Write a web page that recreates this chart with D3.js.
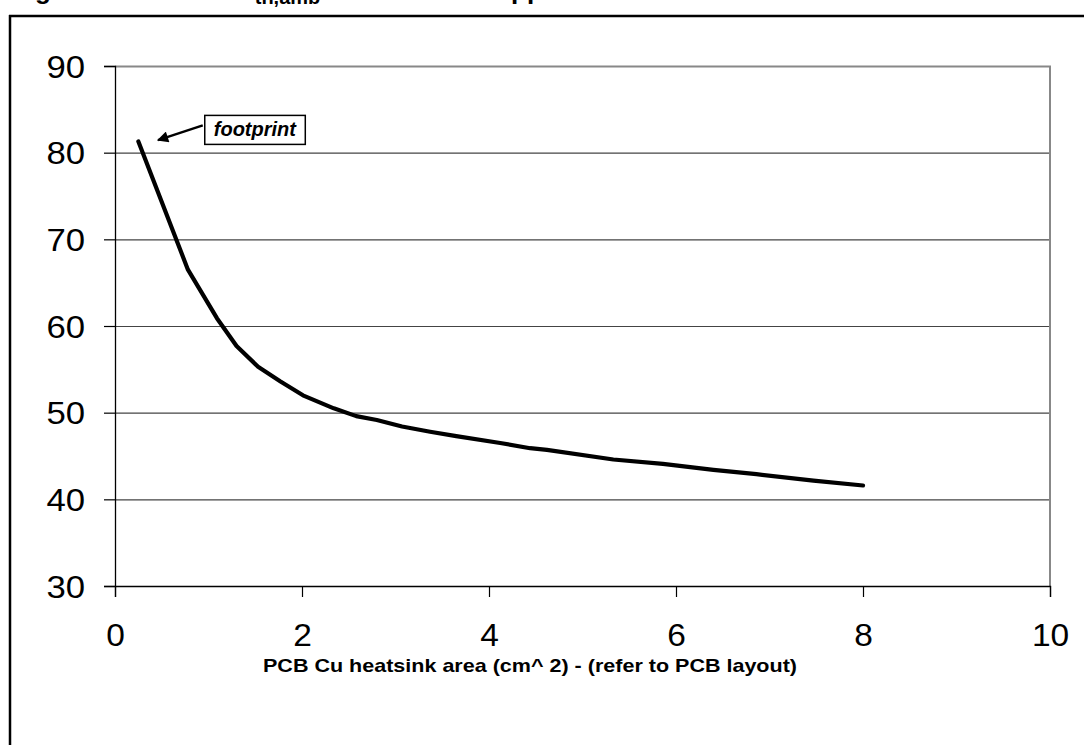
<!DOCTYPE html>
<html><head><meta charset="utf-8">
<script src="https://cdn.jsdelivr.net/npm/d3@7"></script>
<style>
html,body{margin:0;padding:0;background:#fff;}
svg{display:block;font-family:"Liberation Sans",Arial,sans-serif;}
</style></head>
<body>
<svg id="c" width="1084" height="745"></svg>
<script>
// ---- data ----
const areaCm2 = [0.25, 0.78, 1.09, 1.30, 1.53, 1.77, 2.01, 2.34, 2.58, 2.80, 3.07, 3.37, 3.65, 4.12, 4.44, 4.62, 5.33, 5.86, 6.40, 6.86, 7.47, 8.0];
const rthAmb  = [81.3, 66.5, 60.9, 57.7, 55.3, 53.6, 52.0, 50.5, 49.6, 49.15, 48.4, 47.8, 47.3, 46.5, 45.9, 45.7, 44.6, 44.1, 43.4, 42.9, 42.15, 41.6];
const xTicks = [0, 2, 4, 6, 8, 10];
const yTicks = [30, 40, 50, 60, 70, 80, 90];
const xTitle = "PCB Cu heatsink area (cm^ 2) -  (refer to PCB layout)";
const annotText = "footprint";
const annotPoint = [0.46, 81.45];
const annotBox = [0.96, 84.3];

const svg = d3.select("#c");
const x = d3.scaleLinear().domain([0, 10]).range([115, 1050]);
const y = d3.scaleLinear().domain([30, 90]).range([586, 66]);

// cut-off figure title
const t = svg.append("text").attr("x", 12).attr("y", -1)
  .attr("font-size", 26).attr("font-weight", "bold").attr("fill", "#000");
t.append("tspan").text("Figure 4. Thermal R");
t.append("tspan").attr("font-size", 20).attr("dy", 5).text("th,amb");
t.append("tspan").attr("dy", -5).text(" versus PCB copper area");

// outer frame
svg.append("line").attr("x1", 10).attr("x2", 10).attr("y1", 15).attr("y2", 745)
  .attr("stroke", "#000").attr("stroke-width", 2.5);
svg.append("line").attr("x1", 9).attr("x2", 1084).attr("y1", 16).attr("y2", 16)
  .attr("stroke", "#000").attr("stroke-width", 2.5);

// gridlines
svg.append("g").selectAll("line").data(yTicks.filter(v => v > 30 && v < 90)).join("line")
  .attr("x1", x(0)).attr("x2", x(10))
  .attr("y1", d => y(d) + 0.5).attr("y2", d => y(d) + 0.5)
  .attr("stroke", "#444").attr("stroke-width", 1.2);

// plot border top/right (gray)
svg.append("path")
  .attr("d", `M${x(0)},${y(90)+0.5}H${x(10)}V${y(30)}`)
  .attr("fill", "none").attr("stroke", "#888").attr("stroke-width", 2);

function stretch(sel, k) {
  sel.each(function () {
    const len = this.getComputedTextLength();
    d3.select(this).attr("textLength", len * k).attr("lengthAdjust", "spacingAndGlyphs");
  });
}

// y axis
const ya = svg.append("g").attr("transform", `translate(${x(0)},0)`)
  .call(d3.axisLeft(y).tickValues(yTicks).tickSize(11).tickPadding(19).tickFormat(d3.format("d")));
ya.select(".domain").attr("stroke", "#000").attr("stroke-width", 1.3);
ya.selectAll(".tick line").attr("stroke", "#000").attr("stroke-width", 1.2);
ya.selectAll(".tick text").attr("font-size", 31).attr("font-family", "Liberation Sans, Arial, sans-serif")
  .attr("fill", "#000").attr("dy", "0.36em").call(stretch, 1.12);

// x axis
const xa = svg.append("g").attr("transform", `translate(0,${y(30)})`)
  .call(d3.axisBottom(x).tickValues(xTicks).tickSize(11).tickPadding(27).tickFormat(d3.format("d")));
xa.select(".domain").attr("stroke", "#000").attr("stroke-width", 1.3);
xa.selectAll(".tick line").attr("stroke", "#000").attr("stroke-width", 1.2);
xa.selectAll(".tick text").attr("font-size", 31).attr("font-family", "Liberation Sans, Arial, sans-serif")
  .attr("fill", "#000").call(stretch, 1.08);

// x axis title
svg.append("text").attr("x", 530).attr("y", 672)
  .attr("text-anchor", "middle").attr("font-weight", "bold").attr("font-size", 19)
  .attr("textLength", 534).attr("lengthAdjust", "spacingAndGlyphs")
  .attr("fill", "#000").text(xTitle);

// curve
const pts = areaCm2.map((a, i) => [a, rthAmb[i]]);
svg.append("path").datum(pts)
  .attr("d", d3.line().x(d => x(d[0])).y(d => y(d[1])))
  .attr("fill", "none").attr("stroke", "#000").attr("stroke-width", 4.2)
  .attr("stroke-linejoin", "round").attr("stroke-linecap", "round");

// annotation
const defs = svg.append("defs");
defs.append("marker").attr("id", "ah").attr("viewBox", "0 0 10 10").attr("refX", 9).attr("refY", 5)
  .attr("markerWidth", 5).attr("markerHeight", 4.5).attr("orient", "auto-start-reverse")
  .append("path").attr("d", "M0,0L10,5L0,10z").attr("fill", "#000");

const bx = x(annotBox[0]), by = y(annotBox[1]);
const ag = svg.append("g");
const rect = ag.append("rect");
const lab = ag.append("text").attr("x", bx + 9).attr("y", by + 21)
  .attr("font-size", 20).attr("font-weight", "bold").attr("font-style", "italic")
  .attr("fill", "#000").text(annotText);
const bb = lab.node().getBBox();
rect.attr("x", bx).attr("y", by).attr("width", bb.width + 17).attr("height", 29)
  .attr("fill", "#fff").attr("stroke", "#000").attr("stroke-width", 1.5);
svg.append("line").attr("x1", bx - 2).attr("y1", by + 10)
  .attr("x2", x(annotPoint[0])).attr("y2", y(annotPoint[1]))
  .attr("stroke", "#000").attr("stroke-width", 2.5).attr("marker-end", "url(#ah)");
</script>
</body></html>
